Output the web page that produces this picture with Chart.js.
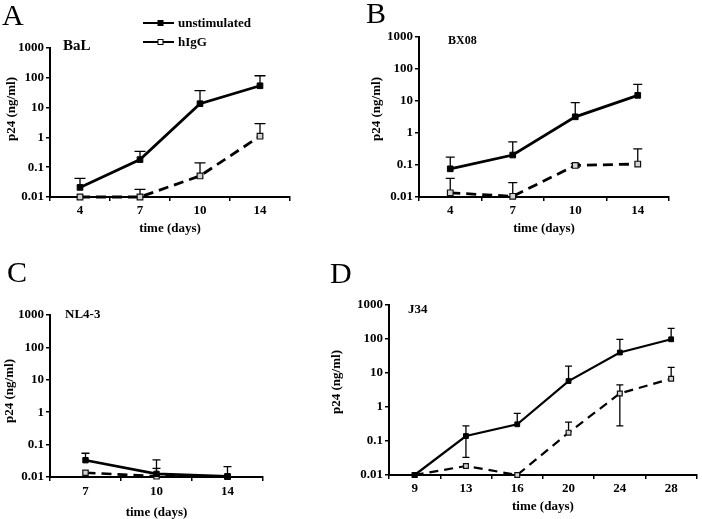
<!DOCTYPE html>
<html><head><meta charset="utf-8">
<script src="https://cdn.jsdelivr.net/npm/chart.js@4/dist/chart.umd.min.js"></script>
<style>
html,body{margin:0;padding:0;background:#fff;width:702px;height:519px;overflow:hidden;}
#wrap{position:relative;width:702px;height:519px;}
canvas{position:absolute;}
.lt{position:absolute;font-family:"Liberation Serif",serif;font-size:30px;line-height:1;color:#000;white-space:nowrap;}
</style></head><body>
<div id="wrap">
<canvas id="cA" width="350" height="250" style="left:0px;top:0px;width:350px;height:250px"></canvas>
<canvas id="cB" width="352" height="250" style="left:350px;top:0px;width:352px;height:250px"></canvas>
<canvas id="cC" width="350" height="269" style="left:0px;top:250px;width:350px;height:269px"></canvas>
<canvas id="cD" width="377" height="269" style="left:325px;top:250px;width:377px;height:269px"></canvas>
<div class="lt" style="left:2px;top:0px">A</div>
<div class="lt" style="left:366px;top:-2px">B</div>
<div class="lt" style="left:7px;top:257px">C</div>
<div class="lt" style="left:330px;top:258px">D</div>
</div>
<script>
// ---- data ----
const seriesNames = ['unstimulated', 'hIgG'];
const strains = ['BaL', 'BX08', 'NL4-3', 'J34'];
const yTickValues = [0.01, 0.1, 1, 10, 100, 1000];

const daysA = ['4', '7', '10', '14'];
const unstimA = [0.021, 0.18, 13.5, 54];
const unstimA_hi = [0.042, 0.34, 37, 117];
const higgA = [0.01, 0.01, 0.051, 1.1];
const higgA_hi = [null, 0.018, 0.14, 2.9];

const daysB = ['4', '7', '10', '14'];
const unstimB = [0.076, 0.205, 3.2, 15];
const unstimB_hi = [0.175, 0.53, 8.9, 33];
const higgB = [0.0135, 0.0105, 0.097, 0.107];
const higgB_hi = [0.038, 0.028, 0.11, 0.32];
const higgB_lo = [null, null, 0.084, null];

const daysC = ['7', '10', '14'];
const unstimC = [0.033, 0.0125, 0.0105];
const unstimC_hi = [0.054, 0.034, 0.021];
const higgC = [0.0135, 0.0105, 0.0102];
const higgC_hi = [null, 0.0185, null];

const daysD = ['9', '13', '16', '20', '24', '28'];
const unstimD = [0.01, 0.14, 0.31, 5.8, 40, 98];
const unstimD_hi = [null, 0.28, 0.65, 16, 98, 205];
const unstimD_lo = [null, 0.033, null, null, null, null];
const higgD = [0.01, 0.0184, 0.01, 0.176, 2.5, 6.8];
const higgD_hi = [null, null, null, 0.36, 4.5, 14.7];
const higgD_lo = [null, null, null, null, 0.28, null];

// ---- rendering ----
const SERIF = '"Liberation Serif", "Times New Roman", serif';

const errPlugin = {
  id: 'errbars',
  beforeDatasetsDraw(chart, args, o) {
    const ctx = chart.ctx, xs = chart.scales.x, ys = chart.scales.y;
    ctx.save();
    ctx.strokeStyle = '#000';
    ctx.lineWidth = o.lw || 1.3;
    chart.data.datasets.forEach(ds => {
      ds.data.forEach((v, i) => {
        const x = xs.getPixelForValue(i), y = ys.getPixelForValue(v);
        [ds.errHi ? ds.errHi[i] : null, ds.errLo ? ds.errLo[i] : null].forEach(e => {
          if (e == null) return;
          const ye = ys.getPixelForValue(e);
          ctx.beginPath();
          ctx.moveTo(x, y); ctx.lineTo(x, ye);
          ctx.moveTo(x - o.cap / 2, ye); ctx.lineTo(x + o.cap / 2, ye);
          ctx.stroke();
        });
      });
    });
    ctx.restore();
  }
};

const textPlugin = {
  id: 'texts',
  afterDraw(chart, args, o) {
    const ctx = chart.ctx, a = chart.chartArea;
    ctx.save();
    ctx.fillStyle = '#000';
    ctx.font = 'bold ' + o.nameSize + 'px ' + SERIF;
    ctx.textAlign = 'left'; ctx.textBaseline = 'alphabetic';
    ctx.fillText(o.name, a.left + o.nameDx, a.top + o.nameDy);
    ctx.save();
    ctx.translate(o.ytx, o.yty);
    ctx.rotate(-Math.PI / 2);
    ctx.textAlign = 'center'; ctx.textBaseline = 'middle';
    ctx.font = 'bold 13px ' + SERIF;
    ctx.fillText('p24 (ng/ml)', 0, 0);
    ctx.restore();
    if (o.legend) {
      const L = o.legend;
      chart.data.datasets.forEach((ds, k) => {
        const y = L.y + k * L.dy;
        ctx.strokeStyle = '#000'; ctx.lineWidth = 2; ctx.setLineDash([]);
        ctx.beginPath(); ctx.moveTo(L.x, y); ctx.lineTo(L.x + L.len, y); ctx.stroke();
        const m = L.x + L.len / 2 + 2;
        ctx.fillStyle = k === 0 ? '#000' : '#fff';
        ctx.fillRect(m - 2.5, y - 2.5, 5, 5);
        ctx.lineWidth = 1; ctx.strokeRect(m - 2.5, y - 2.5, 5, 5);
        ctx.fillStyle = '#000';
        ctx.font = 'bold 13px ' + SERIF;
        ctx.textAlign = 'left'; ctx.textBaseline = 'middle';
        ctx.fillText(ds.label, L.x + L.len + 4, y + 1);
      });
    }
    ctx.restore();
  }
};

function makeChart(p) {
  const cv = document.getElementById(p.id);
  const W = cv.width, H = cv.height;
  const tickFont = { family: SERIF, size: 13, weight: 'bold' };
  new Chart(cv, {
    type: 'line',
    data: {
      labels: p.labels,
      datasets: [
        { label: seriesNames[0], data: p.u, errHi: p.uHi, errLo: p.uLo,
          borderColor: '#000', borderWidth: p.lw, pointStyle: 'rect', pointRadius: p.pr,
          pointBackgroundColor: '#000', pointBorderColor: '#000', pointBorderWidth: 1,
          tension: 0, clip: false, fill: false },
        { label: seriesNames[1], data: p.h, errHi: p.hHi, errLo: p.hLo,
          borderColor: '#000', borderDash: p.dash, borderWidth: p.lw, pointStyle: 'rect', pointRadius: p.pr,
          pointBackgroundColor: '#d4d4d4', pointBorderColor: '#111', pointBorderWidth: 1.2,
          tension: 0, clip: false, fill: false }
      ]
    },
    options: {
      responsive: false, animation: false, devicePixelRatio: 1,
      layout: { padding: { left: 0, right: W - p.area.r, top: p.area.t, bottom: H - p.area.b - p.xh } },
      plugins: {
        legend: { display: false }, tooltip: { enabled: false },
        errbars: { cap: p.cap, lw: 1.3 },
        texts: p.texts
      },
      scales: {
        x: {
          type: 'category', offset: true,
          grid: { offset: true, drawOnChartArea: false, drawTicks: true, tickLength: 4, color: '#000', lineWidth: 1.5 },
          border: { display: true, color: '#000', width: 2 },
          ticks: { color: '#000', font: tickFont, padding: p.xpad, maxRotation: 0, autoSkip: false },
          title: { display: true, text: 'time (days)', color: '#000', padding: 0,
                   font: { family: SERIF, size: 13, weight: 'bold', lineHeight: 1 } },
          afterFit: s => { s.height = p.xh; s.paddingLeft = 0; s.paddingRight = 0; }
        },
        y: {
          type: 'logarithmic', min: 0.01, max: 1000,
          afterBuildTicks: s => { s.ticks = yTickValues.map(v => ({ value: v })); },
          grid: { drawOnChartArea: false, drawTicks: true, tickLength: 4, color: '#000', lineWidth: 1.5 },
          border: { display: true, color: '#000', width: 2 },
          ticks: { color: '#000', font: tickFont, padding: 2, autoSkip: false,
                   callback: v => String(v) },
          afterFit: s => { s.width = p.area.l; s.paddingTop = 0; s.paddingBottom = 0; }
        }
      }
    },
    plugins: [errPlugin, textPlugin]
  });
}

makeChart({ id: 'cA', labels: daysA, u: unstimA, uHi: unstimA_hi, uLo: null, h: higgA, hHi: higgA_hi, hLo: null,
  area: { l: 50, r: 290, t: 48, b: 197 }, xh: 38, xpad: 2, lw: 2.8, pr: 4, cap: 11, dash: [10, 6],
  texts: { name: strains[0], nameSize: 15, nameDx: 13, nameDy: 2, ytx: 12, yty: 109,
           legend: { x: 143, y: 23, dy: 19, len: 31 } } });

makeChart({ id: 'cB', labels: daysB, u: unstimB, uHi: unstimB_hi, uLo: null, h: higgB, hHi: higgB_hi, hLo: higgB_lo,
  area: { l: 69, r: 319, t: 37, b: 197 }, xh: 38, xpad: 2, lw: 2.8, pr: 4, cap: 9, dash: [10, 6],
  texts: { name: strains[1], nameSize: 12, nameDx: 29, nameDy: 7, ytx: 27, yty: 109 } });

makeChart({ id: 'cC', labels: daysC, u: unstimC, uHi: unstimC_hi, uLo: null, h: higgC, hHi: higgC_hi, hLo: null,
  area: { l: 50, r: 263, t: 65, b: 227 }, xh: 42, xpad: 3, lw: 2.6, pr: 3.8, cap: 8, dash: [10, 6],
  texts: { name: strains[2], nameSize: 13, nameDx: 15, nameDy: 3, ytx: 10, yty: 141 } });

makeChart({ id: 'cD', labels: daysD, u: unstimD, uHi: unstimD_hi, uLo: unstimD_lo, h: higgD, hHi: higgD_hi, hLo: higgD_lo,
  area: { l: 64, r: 375, t: 55, b: 225 }, xh: 38, xpad: 2, lw: 2.2, pr: 3.4, cap: 7, dash: [9, 6],
  texts: { name: strains[3], nameSize: 13, nameDx: 19, nameDy: 8, ytx: 12, yty: 132 } });
</script>
</body></html>
